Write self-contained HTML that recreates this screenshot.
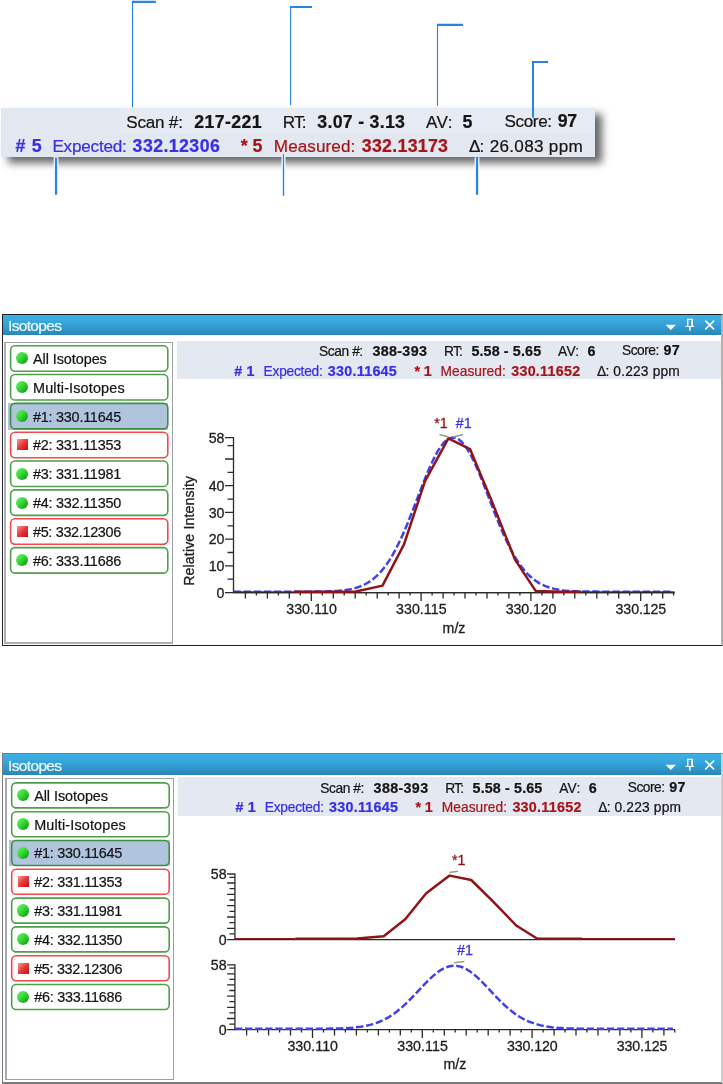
<!DOCTYPE html>
<html lang="en"><head><meta charset="utf-8"><title>Isotopes</title>
<style>
html,body{margin:0;padding:0;background:#fff;}
body{width:723px;height:1084px;position:relative;overflow:hidden;font-family:"Liberation Sans", sans-serif;}
.t{position:absolute;white-space:pre;line-height:1;font-family:"Liberation Sans", sans-serif;-webkit-text-stroke:.22px currentColor;}
.abs{position:absolute;}
.box{position:absolute;left:1px;top:107.8px;width:594px;height:49.2px;background:#e3e7ef;box-shadow:6.5px 6px 8px 0 rgba(0,0,0,.6);}
.win{position:absolute;box-sizing:border-box;background:#fff;}
.title{position:absolute;left:0;right:0;top:0;background:linear-gradient(#3db0e6 0%,#36a3d8 45%,#2886b6 100%);}
.list{position:absolute;box-sizing:border-box;border:1px solid #9c9ea8;background:#fff;}
.band{position:absolute;background:#e4e8f0;}
.btn{position:absolute;box-sizing:border-box;border-radius:5px;}
.gb{fill:none;stroke:#4fa04a;stroke-width:1.6;}
.rb{fill:none;stroke:#f4484b;stroke-width:1.6;}
.sb{fill:none;stroke:#3f8f40;stroke-width:1.6;}
.selbg{position:absolute;background:#b0c4de;}
.dot{position:absolute;width:12.1px;height:12.1px;border-radius:50%;background:linear-gradient(135deg,#5cf25c 12%,#3ad83a 45%,#12a012 88%);}
.sq{position:absolute;width:11.1px;height:11.1px;background:linear-gradient(135deg,#f49a9a 0%,#e63a3a 50%,#cc0a0a 100%);}
svg{position:absolute;left:0;top:0;}
.ax{stroke:#2a2a2a;stroke-width:1.3;fill:none;}
.ct{font-family:"Liberation Sans", sans-serif;font-size:14.2px;fill:#1e1e1e;stroke:#1e1e1e;stroke-width:.3;paint-order:stroke;}
.bl{stroke:#4040f0;stroke-width:2.5;fill:none;stroke-dasharray:7.4 2.7;}
.rd{stroke:#8e1418;stroke-width:2.5;fill:none;stroke-linejoin:round;}
.rt{stroke:#8e1418;stroke-width:1.4;fill:none;}
.ld{stroke:#93a283;stroke-width:1.5;fill:none;}
.cl{stroke:#2a85e0;fill:none;}
</style></head>
<body>
<div class="box"><div class="abs" style="left:118.5px;top:0;right:0;height:26px;background:#e6eaf2"></div></div>
<div class="win" style="left:2px;top:314px;width:721px;height:332px;border:1px solid #232323;border-right:2px solid #b2b2b2"></div>
<div class="title abs" style="left:3px;top:315px;width:718.4px;height:20px"></div>
<div class="list" style="left:4px;top:342px;width:169px;height:302px;border-left:2px solid #adafb8;border-bottom:2px solid #adafb8"></div>
<div class="band" style="left:177px;top:341px;width:544.4px;height:38.4px"></div>
<div class="btn" style="left:9.80px;top:344.90px;width:158.80px;height:27.10px">
<i class="dot" style="left:6.30px;top:7.45px"></i>
</div>
<div class="btn" style="left:9.80px;top:373.74px;width:158.80px;height:27.10px">
<i class="dot" style="left:6.30px;top:7.45px"></i>
</div>
<div class="selbg" style="left:7.90px;top:402.78px;width:160.40px;height:26.90px"></div>
<div class="btn" style="left:9.80px;top:402.58px;width:158.80px;height:27.10px">
<i class="dot" style="left:6.30px;top:7.45px"></i>
</div>
<div class="btn" style="left:9.80px;top:431.42px;width:158.80px;height:27.10px">
<i class="sq" style="left:6.90px;top:7.95px"></i>
</div>
<div class="btn" style="left:9.80px;top:460.26px;width:158.80px;height:27.10px">
<i class="dot" style="left:6.30px;top:7.45px"></i>
</div>
<div class="btn" style="left:9.80px;top:489.10px;width:158.80px;height:27.10px">
<i class="dot" style="left:6.30px;top:7.45px"></i>
</div>
<div class="btn" style="left:9.80px;top:517.94px;width:158.80px;height:27.10px">
<i class="sq" style="left:6.90px;top:7.95px"></i>
</div>
<div class="btn" style="left:9.80px;top:546.78px;width:158.80px;height:27.10px">
<i class="dot" style="left:6.30px;top:7.45px"></i>
</div>
<div class="win" style="left:2px;top:753px;width:721px;height:331px;border:1px solid #7c7c7c;border-bottom-width:2px;border-right:2px solid #cdcdcd"></div>
<div class="title abs" style="left:3px;top:754px;width:718.4px;height:21.3px"></div>
<div class="list" style="left:5px;top:778px;width:169px;height:302px;border-left:2px solid #a6a8b4"></div>
<div class="band" style="left:178.4px;top:777.4px;width:543px;height:39px"></div>
<div class="btn" style="left:10.90px;top:782.10px;width:159.10px;height:26.60px">
<i class="dot" style="left:6.30px;top:7.20px"></i>
</div>
<div class="btn" style="left:10.90px;top:810.90px;width:159.10px;height:26.60px">
<i class="dot" style="left:6.30px;top:7.20px"></i>
</div>
<div class="selbg" style="left:9.00px;top:839.90px;width:160.70px;height:26.40px"></div>
<div class="btn" style="left:10.90px;top:839.70px;width:159.10px;height:26.60px">
<i class="dot" style="left:6.30px;top:7.20px"></i>
</div>
<div class="btn" style="left:10.90px;top:868.50px;width:159.10px;height:26.60px">
<i class="sq" style="left:6.90px;top:7.70px"></i>
</div>
<div class="btn" style="left:10.90px;top:897.30px;width:159.10px;height:26.60px">
<i class="dot" style="left:6.30px;top:7.20px"></i>
</div>
<div class="btn" style="left:10.90px;top:926.10px;width:159.10px;height:26.60px">
<i class="dot" style="left:6.30px;top:7.20px"></i>
</div>
<div class="btn" style="left:10.90px;top:954.90px;width:159.10px;height:26.60px">
<i class="sq" style="left:6.90px;top:7.70px"></i>
</div>
<div class="btn" style="left:10.90px;top:983.70px;width:159.10px;height:26.60px">
<i class="dot" style="left:6.30px;top:7.20px"></i>
</div>
<svg width="723" height="1084" viewBox="0 0 723 1084">
<path class="cl" stroke-width="1.15" d="M132.55 1V107.2M290.6 6.2V104.9M437.5 24V105.7"/>
<path class="cl" stroke-width="2.1" d="M132 1.85H155.9M290 7.05H312M437 24.9H463M532 62.05H548"/>
<path class="cl" stroke-width="2.05" d="M533 61.2V117.6"/>
<path stroke="#fff" fill="none" stroke-width="4.7" d="M56.05 157.2V171M477.05 157.2V171"/>
<path stroke="#fff" fill="none" stroke-width="4" d="M283.5 154V171"/>
<path class="cl" stroke-width="2.3" d="M56.05 157.8V194.8M477.05 157V194.8"/>
<path class="cl" stroke-width="1.4" d="M283.5 154.1V195.8"/>
<g transform="translate(0.0 0.0)" fill="#fff" stroke="none">
<path d="M665.5 324.7h10.6l-5.3 5.2z"/>
<path d="M687.1 318.8H693V325.9H694.1V327.1H690.6V330.7H689.2V327.1H685.5V325.9H687.1ZM688.4 320.1V325.9H691.3V320.1Z" fill-rule="evenodd"/>
<path d="M705.3 320.6L714.1 329.4M714.1 320.6L705.3 329.4" stroke="#fff" stroke-width="1.5" fill="none"/>
</g>
<g transform="translate(0.0 440.0)" fill="#fff" stroke="none">
<path d="M665.5 324.7h10.6l-5.3 5.2z"/>
<path d="M687.1 318.8H693V325.9H694.1V327.1H690.6V330.7H689.2V327.1H685.5V325.9H687.1ZM688.4 320.1V325.9H691.3V320.1Z" fill-rule="evenodd"/>
<path d="M705.3 320.6L714.1 329.4M714.1 320.6L705.3 329.4" stroke="#fff" stroke-width="1.5" fill="none"/>
</g>
<rect x="10.60" y="345.70" width="157.20" height="25.50" rx="4.4" class="gb"/>
<rect x="10.60" y="374.54" width="157.20" height="25.50" rx="4.4" class="gb"/>
<rect x="10.60" y="403.38" width="157.20" height="25.50" rx="4.4" class="sb"/>
<rect x="10.60" y="432.22" width="157.20" height="25.50" rx="4.4" class="rb"/>
<rect x="10.60" y="461.06" width="157.20" height="25.50" rx="4.4" class="gb"/>
<rect x="10.60" y="489.90" width="157.20" height="25.50" rx="4.4" class="gb"/>
<rect x="10.60" y="518.74" width="157.20" height="25.50" rx="4.4" class="rb"/>
<rect x="10.60" y="547.58" width="157.20" height="25.50" rx="4.4" class="gb"/>
<rect x="11.70" y="782.90" width="157.50" height="25.00" rx="4.4" class="gb"/>
<rect x="11.70" y="811.70" width="157.50" height="25.00" rx="4.4" class="gb"/>
<rect x="11.70" y="840.50" width="157.50" height="25.00" rx="4.4" class="sb"/>
<rect x="11.70" y="869.30" width="157.50" height="25.00" rx="4.4" class="rb"/>
<rect x="11.70" y="898.10" width="157.50" height="25.00" rx="4.4" class="gb"/>
<rect x="11.70" y="926.90" width="157.50" height="25.00" rx="4.4" class="gb"/>
<rect x="11.70" y="955.70" width="157.50" height="25.00" rx="4.4" class="rb"/>
<rect x="11.70" y="984.50" width="157.50" height="25.00" rx="4.4" class="gb"/>
<path d="M233.5 437.1V593.1" class="ax"/>
<path d="M233.5 592.6h-8.5M233.5 579.2h-6.0M233.5 565.9h-8.5M233.5 552.5h-6.0M233.5 539.2h-8.5M233.5 525.8h-6.0M233.5 512.4h-8.5M233.5 499.1h-6.0M233.5 485.7h-8.5M233.5 472.3h-6.0M233.5 459.0h-8.5M233.5 445.6h-6.0M233.5 437.6h-8.5" class="ax"/>
<text x="224.5" y="597.7" class="ct" text-anchor="end">0</text>
<text x="224.5" y="571.0" class="ct" text-anchor="end">10</text>
<text x="224.5" y="544.3" class="ct" text-anchor="end">20</text>
<text x="224.5" y="517.5" class="ct" text-anchor="end">30</text>
<text x="224.5" y="490.8" class="ct" text-anchor="end">40</text>
<text x="224.5" y="442.7" class="ct" text-anchor="end">58</text>
<path d="M233.5 592.6H674.5" class="ax"/>
<path d="M245.4 592.6v5.8M256.4 592.6v2.8M267.4 592.6v5.8M278.4 592.6v2.8M289.3 592.6v5.8M300.3 592.6v2.8M311.3 592.6v8.3M322.3 592.6v2.8M333.3 592.6v5.8M344.2 592.6v2.8M355.2 592.6v5.8M366.2 592.6v2.8M377.2 592.6v5.8M388.2 592.6v2.8M399.1 592.6v5.8M410.1 592.6v2.8M421.1 592.6v8.3M432.1 592.6v2.8M443.1 592.6v5.8M454.0 592.6v2.8M465.0 592.6v5.8M476.0 592.6v2.8M487.0 592.6v5.8M498.0 592.6v2.8M508.9 592.6v5.8M519.9 592.6v2.8M530.9 592.6v8.3M541.9 592.6v2.8M552.9 592.6v5.8M563.8 592.6v2.8M574.8 592.6v5.8M585.8 592.6v2.8M596.8 592.6v5.8M607.8 592.6v2.8M618.7 592.6v5.8M629.7 592.6v2.8M640.7 592.6v8.3M651.7 592.6v2.8M662.7 592.6v5.8M673.6 592.6v2.8" class="ax"/>
<text x="311.5" y="614.4" class="ct" text-anchor="middle" textLength="50.6">330.110</text>
<text x="421.3" y="614.4" class="ct" text-anchor="middle" textLength="50.6">330.115</text>
<text x="531.1" y="614.4" class="ct" text-anchor="middle" textLength="50.6">330.120</text>
<text x="640.9" y="614.4" class="ct" text-anchor="middle" textLength="50.6">330.125</text>
<text x="454.0" y="632.6" class="ct" text-anchor="middle">m/z</text>
<text transform="translate(194.3 530.8) rotate(-90)" class="ct" text-anchor="middle" textLength="110">Relative Intensity</text>
<path d="M233.5,591.7 L236.5,591.7 L239.5,591.7 L242.5,591.7 L245.5,591.7 L248.5,591.7 L251.5,591.7 L254.5,591.7 L257.5,591.7 L260.5,591.7 L263.5,591.7 L266.5,591.7 L269.5,591.7 L272.5,591.7 L275.5,591.7 L278.5,591.7 L281.5,591.7 L284.5,591.7 L287.5,591.7 L290.5,591.7 L293.5,591.7 L296.5,591.7 L299.5,591.7 L302.5,591.7 L305.5,591.7 L308.5,591.7 L311.5,591.6 L314.5,591.6 L317.5,591.6 L320.5,591.5 L323.5,591.5 L326.5,591.4 L329.5,591.3 L332.5,591.2 L335.5,591.0 L338.5,590.8 L341.5,590.5 L344.5,590.2 L347.5,589.7 L350.5,589.2 L353.5,588.5 L356.5,587.7 L359.5,586.7 L362.5,585.5 L365.5,584.0 L368.5,582.3 L371.5,580.3 L374.5,577.9 L377.5,575.2 L380.5,572.1 L383.5,568.5 L386.5,564.5 L389.5,560.1 L392.5,555.1 L395.5,549.7 L398.5,543.7 L401.5,537.4 L404.5,530.6 L407.5,523.5 L410.5,516.0 L413.5,508.4 L416.5,500.6 L419.5,492.8 L422.5,485.0 L425.5,477.5 L428.5,470.2 L431.5,463.5 L434.5,457.3 L437.5,451.7 L440.5,447.0 L443.5,443.2 L446.5,440.3 L449.5,438.4 L452.5,437.6 L455.5,437.9 L458.5,439.3 L461.5,441.7 L464.5,445.1 L467.5,449.4 L470.5,454.6 L473.5,460.5 L476.5,467.0 L479.5,474.0 L482.5,481.5 L485.5,489.1 L488.5,496.9 L491.5,504.8 L494.5,512.5 L497.5,520.0 L500.5,527.3 L503.5,534.3 L506.5,540.8 L509.5,547.0 L512.5,552.6 L515.5,557.8 L518.5,562.5 L521.5,566.7 L524.5,570.5 L527.5,573.8 L530.5,576.7 L533.5,579.2 L536.5,581.4 L539.5,583.3 L542.5,584.8 L545.5,586.1 L548.5,587.2 L551.5,588.1 L554.5,588.9 L557.5,589.5 L560.5,590.0 L563.5,590.4 L566.5,590.7 L569.5,590.9 L572.5,591.1 L575.5,591.2 L578.5,591.4 L581.5,591.4 L584.5,591.5 L587.5,591.6 L590.5,591.6 L593.5,591.6 L596.5,591.6 L599.5,591.7 L602.5,591.7 L605.5,591.7 L608.5,591.7 L611.5,591.7 L614.5,591.7 L617.5,591.7 L620.5,591.7 L623.5,591.7 L626.5,591.7 L629.5,591.7 L632.5,591.7 L635.5,591.7 L638.5,591.7 L641.5,591.7 L644.5,591.7 L647.5,591.7 L650.5,591.7 L653.5,591.7 L656.5,591.7 L659.5,591.7 L662.5,591.7 L665.5,591.7 L668.5,591.7 L671.5,591.7" class="bl"/>
<path d="M233.5 591.9H294.0M581.0 591.9H674.5" class="rt"/>
<path d="M233.5 592.7H674.5" class="ax"/>
<path d="M294.0,591.7 L345.0,591.7 L356.0,591.5 L382.5,585.6 L404.0,544.4 L425.0,481.2 L448.4,438.4 L470.0,449.1 L491.0,499.2 L515.0,559.6 L535.8,591.1 L560.0,591.7 L581.0,591.7" class="rd"/>
<path d="M439.5 434.5L448.6 437M463.2 434.5L453.2 437" class="ld"/>
<text x="434.2" y="428" class="ct" style="fill:#8e1015;stroke:#8e1015">*1</text>
<text x="455.8" y="428" class="ct" style="fill:#3a34ee;stroke:#3a34ee">#1</text>
<path d="M234.9 873.5V940.1" class="ax"/>
<path d="M234.9 939.6h-7.8M234.9 933.9h-5.5M234.9 928.3h-7.8M234.9 922.6h-5.5M234.9 917.0h-7.8M234.9 911.3h-5.5M234.9 905.7h-7.8M234.9 900.0h-5.5M234.9 894.4h-7.8M234.9 888.7h-5.5M234.9 883.0h-7.8M234.9 877.4h-5.5M234.9 874.0h-7.8" class="ax"/>
<text x="226.6" y="944.7" class="ct" text-anchor="end">0</text>
<text x="226.6" y="879.1" class="ct" text-anchor="end">58</text>
<path d="M234.9 939.6H675" class="ax"/>
<path d="M234.9 938.6H295.0M582.0 938.6H675.0" class="rt"/>
<path d="M295.2,938.7 L346.2,938.7 L357.2,938.6 L383.7,936.2 L405.2,919.2 L426.2,893.2 L449.6,875.6 L471.2,880.0 L492.2,900.6 L516.2,925.5 L537.0,938.5 L561.2,938.7 L582.2,938.7" class="rd"/>
<path d="M449.3 872.6L458 871.3" class="ld"/>
<text x="452.1" y="865" class="ct" style="fill:#8e1015;stroke:#8e1015">*1</text>
<path d="M234.9 964.3V1030.2" class="ax"/>
<path d="M234.9 1029.7h-7.8M234.9 1024.1h-5.5M234.9 1018.5h-7.8M234.9 1012.9h-5.5M234.9 1007.3h-7.8M234.9 1001.7h-5.5M234.9 996.1h-7.8M234.9 990.5h-5.5M234.9 984.9h-7.8M234.9 979.3h-5.5M234.9 973.8h-7.8M234.9 968.2h-5.5M234.9 964.8h-7.8" class="ax"/>
<text x="226.6" y="1034.8" class="ct" text-anchor="end">0</text>
<text x="226.6" y="969.9" class="ct" text-anchor="end">58</text>
<path d="M234.9 1029.7H675.0" class="ax"/>
<path d="M246.6 1029.7v5.8M257.6 1029.7v2.8M268.6 1029.7v5.8M279.6 1029.7v2.8M290.5 1029.7v5.8M301.5 1029.7v2.8M312.5 1029.7v8.3M323.5 1029.7v2.8M334.5 1029.7v5.8M345.4 1029.7v2.8M356.4 1029.7v5.8M367.4 1029.7v2.8M378.4 1029.7v5.8M389.4 1029.7v2.8M400.3 1029.7v5.8M411.3 1029.7v2.8M422.3 1029.7v8.3M433.3 1029.7v2.8M444.3 1029.7v5.8M455.2 1029.7v2.8M466.2 1029.7v5.8M477.2 1029.7v2.8M488.2 1029.7v5.8M499.2 1029.7v2.8M510.1 1029.7v5.8M521.1 1029.7v2.8M532.1 1029.7v8.3M543.1 1029.7v2.8M554.1 1029.7v5.8M565.0 1029.7v2.8M576.0 1029.7v5.8M587.0 1029.7v2.8M598.0 1029.7v5.8M609.0 1029.7v2.8M619.9 1029.7v5.8M630.9 1029.7v2.8M641.9 1029.7v8.3M652.9 1029.7v2.8M663.9 1029.7v5.8M674.8 1029.7v2.8" class="ax"/>
<text x="312.7" y="1051.0" class="ct" text-anchor="middle" textLength="50.6">330.110</text>
<text x="422.5" y="1051.0" class="ct" text-anchor="middle" textLength="50.6">330.115</text>
<text x="532.3" y="1051.0" class="ct" text-anchor="middle" textLength="50.6">330.120</text>
<text x="642.1" y="1051.0" class="ct" text-anchor="middle" textLength="50.6">330.125</text>
<text x="454.9" y="1069.2" class="ct" text-anchor="middle">m/z</text>
<path d="M234.9,1028.8 L237.9,1028.8 L240.9,1028.8 L243.9,1028.8 L246.9,1028.8 L249.9,1028.8 L252.9,1028.8 L255.9,1028.8 L258.9,1028.8 L261.9,1028.8 L264.9,1028.8 L267.9,1028.8 L270.9,1028.8 L273.9,1028.8 L276.9,1028.8 L279.9,1028.8 L282.9,1028.8 L285.9,1028.8 L288.9,1028.8 L291.9,1028.8 L294.9,1028.8 L297.9,1028.8 L300.9,1028.8 L303.9,1028.8 L306.9,1028.8 L309.9,1028.8 L312.9,1028.8 L315.9,1028.8 L318.9,1028.8 L321.9,1028.7 L324.9,1028.7 L327.9,1028.7 L330.9,1028.6 L333.9,1028.6 L336.9,1028.5 L339.9,1028.4 L342.9,1028.3 L345.9,1028.2 L348.9,1028.0 L351.9,1027.8 L354.9,1027.5 L357.9,1027.1 L360.9,1026.7 L363.9,1026.2 L366.9,1025.6 L369.9,1024.9 L372.9,1024.1 L375.9,1023.1 L378.9,1022.0 L381.9,1020.7 L384.9,1019.2 L387.9,1017.6 L390.9,1015.7 L393.9,1013.7 L396.9,1011.4 L399.9,1009.0 L402.9,1006.4 L405.9,1003.6 L408.9,1000.7 L411.9,997.6 L414.9,994.5 L417.9,991.3 L420.9,988.1 L423.9,984.9 L426.9,981.8 L429.9,978.9 L432.9,976.1 L435.9,973.6 L438.9,971.3 L441.9,969.4 L444.9,967.9 L447.9,966.7 L450.9,966.0 L453.9,965.7 L456.9,965.9 L459.9,966.4 L462.9,967.5 L465.9,968.9 L468.9,970.7 L471.9,972.8 L474.9,975.2 L477.9,977.9 L480.9,980.8 L483.9,983.9 L486.9,987.0 L489.9,990.2 L492.9,993.4 L495.9,996.6 L498.9,999.7 L501.9,1002.6 L504.9,1005.5 L507.9,1008.1 L510.9,1010.6 L513.9,1012.9 L516.9,1015.1 L519.9,1017.0 L522.9,1018.7 L525.9,1020.2 L528.9,1021.6 L531.9,1022.7 L534.9,1023.8 L537.9,1024.6 L540.9,1025.4 L543.9,1026.0 L546.9,1026.6 L549.9,1027.0 L552.9,1027.4 L555.9,1027.7 L558.9,1027.9 L561.9,1028.1 L564.9,1028.3 L567.9,1028.4 L570.9,1028.5 L573.9,1028.6 L576.9,1028.6 L579.9,1028.7 L582.9,1028.7 L585.9,1028.7 L588.9,1028.7 L591.9,1028.8 L594.9,1028.8 L597.9,1028.8 L600.9,1028.8 L603.9,1028.8 L606.9,1028.8 L609.9,1028.8 L612.9,1028.8 L615.9,1028.8 L618.9,1028.8 L621.9,1028.8 L624.9,1028.8 L627.9,1028.8 L630.9,1028.8 L633.9,1028.8 L636.9,1028.8 L639.9,1028.8 L642.9,1028.8 L645.9,1028.8 L648.9,1028.8 L651.9,1028.8 L654.9,1028.8 L657.9,1028.8 L660.9,1028.8 L663.9,1028.8 L666.9,1028.8 L669.9,1028.8 L672.9,1028.8" class="bl"/>
<path d="M454 962.8L464.3 961.5" class="ld"/>
<text x="457.0" y="955.2" class="ct" style="fill:#3a34ee;stroke:#3a34ee">#1</text>
</svg>
<span class="t" style="left:126.20px;top:114.00px;font-size:17.10px;color:#151515;letter-spacing:-0.211px;">Scan #:</span>
<span class="t" style="left:194.30px;top:114.00px;font-size:17.78px;color:#151515;font-weight:bold;letter-spacing:0.366px;">217-221</span>
<span class="t" style="left:282.70px;top:114.00px;font-size:17.10px;color:#151515;letter-spacing:-0.722px;">RT:</span>
<span class="t" style="left:317.30px;top:114.00px;font-size:17.78px;color:#151515;font-weight:bold;letter-spacing:0.275px;">3.07 - 3.13</span>
<span class="t" style="left:426.00px;top:114.00px;font-size:17.10px;color:#151515;letter-spacing:0.422px;">AV:</span>
<span class="t" style="left:462.40px;top:114.00px;font-size:17.78px;color:#151515;font-weight:bold;">5</span>
<span class="t" style="left:504.60px;top:113.40px;font-size:17.10px;color:#151515;letter-spacing:-0.401px;">Score:</span>
<span class="t" style="left:557.70px;top:113.40px;font-size:17.78px;color:#151515;font-weight:bold;letter-spacing:-0.266px;">97</span>
<span class="t" style="left:15.60px;top:138.00px;font-size:17.78px;color:#382fe6;font-weight:bold;letter-spacing:0.648px;"># 5</span>
<span class="t" style="left:52.40px;top:138.00px;font-size:17.10px;color:#382fe6;letter-spacing:-0.204px;">Expected:</span>
<span class="t" style="left:132.60px;top:138.00px;font-size:17.78px;color:#382fe6;font-weight:bold;letter-spacing:0.402px;">332.12306</span>
<span class="t" style="left:240.80px;top:138.00px;font-size:17.78px;color:#a5161b;font-weight:bold;letter-spacing:-0.017px;">* 5</span>
<span class="t" style="left:273.80px;top:138.00px;font-size:17.10px;color:#a5161b;letter-spacing:0.092px;">Measured:</span>
<span class="t" style="left:361.80px;top:138.00px;font-size:17.78px;color:#a5161b;font-weight:bold;letter-spacing:0.277px;">332.13173</span>
<span class="t" style="left:469.00px;top:138.00px;font-size:17.10px;color:#151515;letter-spacing:-0.800px;">Δ:</span>
<span class="t" style="left:489.70px;top:138.00px;font-size:17.10px;color:#151515;letter-spacing:0.300px;">26.083 ppm</span>
<span class="t" style="left:319.10px;top:345.30px;font-size:13.75px;color:#151515;letter-spacing:-0.423px;">Scan #:</span>
<span class="t" style="left:372.40px;top:344.30px;font-size:14.30px;color:#151515;font-weight:bold;letter-spacing:0.339px;">388-393</span>
<span class="t" style="left:444.00px;top:345.30px;font-size:13.75px;color:#151515;letter-spacing:-0.800px;">RT:</span>
<span class="t" style="left:471.40px;top:344.30px;font-size:14.30px;color:#151515;font-weight:bold;letter-spacing:0.134px;">5.58 - 5.65</span>
<span class="t" style="left:558.00px;top:345.30px;font-size:13.75px;color:#151515;letter-spacing:0.280px;">AV:</span>
<span class="t" style="left:587.60px;top:344.30px;font-size:14.30px;color:#151515;font-weight:bold;">6</span>
<span class="t" style="left:622.00px;top:343.90px;font-size:13.75px;color:#151515;letter-spacing:-0.490px;">Score:</span>
<span class="t" style="left:663.40px;top:342.90px;font-size:14.30px;color:#151515;font-weight:bold;letter-spacing:0.294px;">97</span>
<span class="t" style="left:234.20px;top:363.70px;font-size:14.30px;color:#382fe6;font-weight:bold;letter-spacing:0.163px;"># 1</span>
<span class="t" style="left:263.60px;top:364.70px;font-size:13.75px;color:#382fe6;letter-spacing:-0.245px;">Expected:</span>
<span class="t" style="left:327.80px;top:363.70px;font-size:14.30px;color:#382fe6;font-weight:bold;letter-spacing:0.275px;">330.11645</span>
<span class="t" style="left:414.40px;top:363.70px;font-size:14.30px;color:#a5161b;font-weight:bold;letter-spacing:-0.150px;">* 1</span>
<span class="t" style="left:440.60px;top:364.70px;font-size:13.75px;color:#a5161b;letter-spacing:0.029px;">Measured:</span>
<span class="t" style="left:511.20px;top:363.70px;font-size:14.30px;color:#a5161b;font-weight:bold;letter-spacing:0.275px;">330.11652</span>
<span class="t" style="left:597.10px;top:364.70px;font-size:13.75px;color:#151515;letter-spacing:-0.800px;">Δ:</span>
<span class="t" style="left:613.30px;top:364.70px;font-size:13.75px;color:#151515;letter-spacing:0.189px;">0.223 ppm</span>
<span class="t" style="left:320.30px;top:782.10px;font-size:13.75px;color:#151515;letter-spacing:-0.423px;">Scan #:</span>
<span class="t" style="left:373.60px;top:781.10px;font-size:14.30px;color:#151515;font-weight:bold;letter-spacing:0.339px;">388-393</span>
<span class="t" style="left:445.20px;top:782.10px;font-size:13.75px;color:#151515;letter-spacing:-0.800px;">RT:</span>
<span class="t" style="left:472.60px;top:781.10px;font-size:14.30px;color:#151515;font-weight:bold;letter-spacing:0.134px;">5.58 - 5.65</span>
<span class="t" style="left:559.20px;top:782.10px;font-size:13.75px;color:#151515;letter-spacing:0.280px;">AV:</span>
<span class="t" style="left:588.80px;top:781.10px;font-size:14.30px;color:#151515;font-weight:bold;">6</span>
<span class="t" style="left:627.80px;top:780.70px;font-size:13.75px;color:#151515;letter-spacing:-0.490px;">Score:</span>
<span class="t" style="left:669.20px;top:779.70px;font-size:14.30px;color:#151515;font-weight:bold;letter-spacing:0.294px;">97</span>
<span class="t" style="left:235.40px;top:800.20px;font-size:14.30px;color:#382fe6;font-weight:bold;letter-spacing:0.163px;"># 1</span>
<span class="t" style="left:264.80px;top:801.20px;font-size:13.75px;color:#382fe6;letter-spacing:-0.245px;">Expected:</span>
<span class="t" style="left:329.00px;top:800.20px;font-size:14.30px;color:#382fe6;font-weight:bold;letter-spacing:0.275px;">330.11645</span>
<span class="t" style="left:415.60px;top:800.20px;font-size:14.30px;color:#a5161b;font-weight:bold;letter-spacing:-0.150px;">* 1</span>
<span class="t" style="left:441.80px;top:801.20px;font-size:13.75px;color:#a5161b;letter-spacing:0.029px;">Measured:</span>
<span class="t" style="left:512.40px;top:800.20px;font-size:14.30px;color:#a5161b;font-weight:bold;letter-spacing:0.275px;">330.11652</span>
<span class="t" style="left:598.30px;top:801.20px;font-size:13.75px;color:#151515;letter-spacing:-0.800px;">Δ:</span>
<span class="t" style="left:614.50px;top:801.20px;font-size:13.75px;color:#151515;letter-spacing:0.189px;">0.223 ppm</span>
<span class="t" style="left:33.00px;top:351.85px;font-size:14.40px;color:#151515;letter-spacing:-0.055px;">All Isotopes</span>
<span class="t" style="left:33.00px;top:380.69px;font-size:14.40px;color:#151515;letter-spacing:0.156px;">Multi-Isotopes</span>
<span class="t" style="left:33.00px;top:409.53px;font-size:14.40px;color:#151515;letter-spacing:-0.231px;">#1: 330.11645</span>
<span class="t" style="left:33.00px;top:438.37px;font-size:14.40px;color:#151515;letter-spacing:-0.231px;">#2: 331.11353</span>
<span class="t" style="left:33.00px;top:467.21px;font-size:14.40px;color:#151515;letter-spacing:-0.231px;">#3: 331.11981</span>
<span class="t" style="left:33.00px;top:496.05px;font-size:14.40px;color:#151515;letter-spacing:-0.231px;">#4: 332.11350</span>
<span class="t" style="left:33.00px;top:524.89px;font-size:14.40px;color:#151515;letter-spacing:-0.319px;">#5: 332.12306</span>
<span class="t" style="left:33.00px;top:553.73px;font-size:14.40px;color:#151515;letter-spacing:-0.231px;">#6: 333.11686</span>
<span class="t" style="left:34.20px;top:788.80px;font-size:14.40px;color:#151515;letter-spacing:-0.055px;">All Isotopes</span>
<span class="t" style="left:34.20px;top:817.60px;font-size:14.40px;color:#151515;letter-spacing:0.156px;">Multi-Isotopes</span>
<span class="t" style="left:34.20px;top:846.40px;font-size:14.40px;color:#151515;letter-spacing:-0.231px;">#1: 330.11645</span>
<span class="t" style="left:34.20px;top:875.20px;font-size:14.40px;color:#151515;letter-spacing:-0.231px;">#2: 331.11353</span>
<span class="t" style="left:34.20px;top:904.00px;font-size:14.40px;color:#151515;letter-spacing:-0.231px;">#3: 331.11981</span>
<span class="t" style="left:34.20px;top:932.80px;font-size:14.40px;color:#151515;letter-spacing:-0.231px;">#4: 332.11350</span>
<span class="t" style="left:34.20px;top:961.60px;font-size:14.40px;color:#151515;letter-spacing:-0.319px;">#5: 332.12306</span>
<span class="t" style="left:34.20px;top:990.40px;font-size:14.40px;color:#151515;letter-spacing:-0.231px;">#6: 333.11686</span>
<span class="t" style="left:8.00px;top:317.80px;font-size:15.50px;color:#eef6fc;letter-spacing:-0.658px;">Isotopes</span>
<span class="t" style="left:8.10px;top:758.20px;font-size:15.50px;color:#eef6fc;letter-spacing:-0.658px;">Isotopes</span>
</body></html>
